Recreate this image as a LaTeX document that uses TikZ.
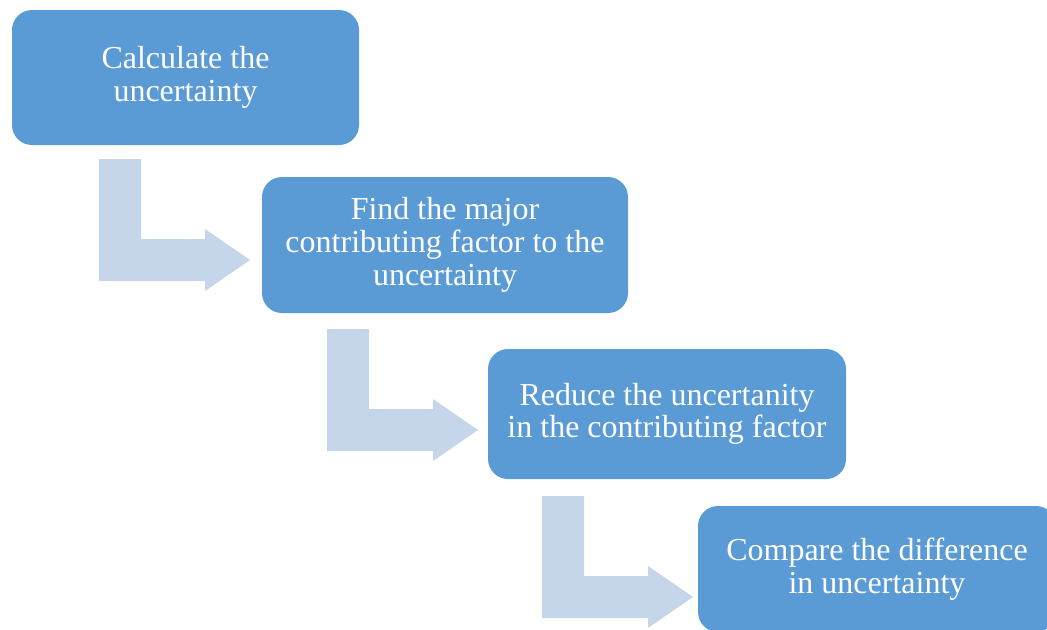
\documentclass[tikz,border=0pt]{standalone}
\usepackage{fontspec}
\setmainfont{Liberation Serif}
\definecolor{stepblue}{HTML}{5B9BD5}
\definecolor{arrowblue}{HTML}{C5D5EA}

\tikzset{
  stepbox/.style={fill=stepblue, rounded corners=15pt, inner sep=0pt,
    text=white, align=center, font=\fontsize{24}{24.5}\selectfont},
  bentarrow/.pic={
    \fill[arrowblue] (0,0) -- (42,0) -- (42,80) -- (106,80) -- (106,70)
      -- (151,101) -- (106,132) -- (106,122) -- (0,122) -- cycle;
  }
}

\begin{document}
\begin{tikzpicture}[x=0.75pt, y=-0.75pt]
\clip (0,0) rectangle (1047,629);
\useasboundingbox (0,0) rectangle (1047,629);

% the four steps
\node[stepbox, minimum width=260.25pt, minimum height=101.25pt] (calc) at (185.5,77.5)
  {Calculate the\\uncertainty};
\node[stepbox, minimum width=274.5pt, minimum height=102pt] (find) at (445,245)
  {Find the major\\contributing factor to the\\uncertainty};
\node[stepbox, minimum width=268.5pt, minimum height=97.5pt] (reduce) at (667,414)
  {Reduce the uncertanity\\in the contributing factor};
\node[stepbox, minimum width=268.5pt, minimum height=94.5pt] (compare) at (877,569)
  {Compare the difference\\in uncertainty};

% bent arrows between the steps
\pic at (99,159) {bentarrow};
\pic at (327,329) {bentarrow};
\pic at (542,496) {bentarrow};
\end{tikzpicture}
\end{document}
